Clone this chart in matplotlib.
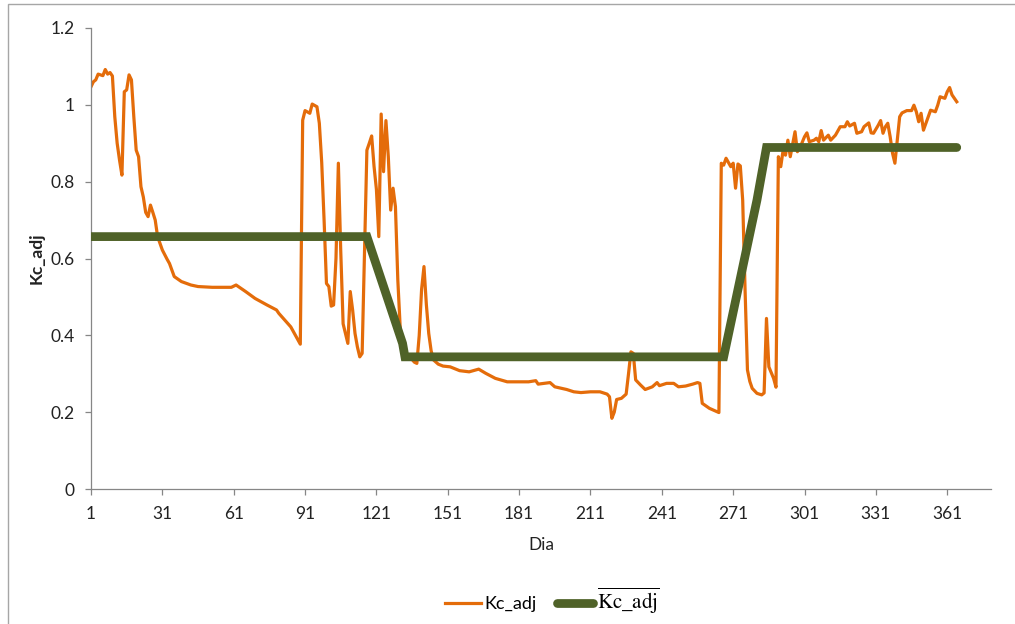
import matplotlib
matplotlib.use("Agg")
import matplotlib.pyplot as plt
from matplotlib.patches import Rectangle
from matplotlib.lines import Line2D

# ---- data ----
kc_days = [1, 2, 3, 4, 5, 6, 7, 8, 9, 10, 11, 12, 13, 14, 15, 16, 17, 18, 19, 20,
           21, 22, 23, 24, 25, 26, 27, 28, 29, 31, 33, 34, 36, 39, 43, 46, 52, 60, 62, 66,
           70, 75, 79, 80, 85, 89, 90, 91, 93, 94, 96, 97, 98, 99, 100, 101, 102, 103, 104, 105,
           106, 107, 108, 109, 110, 111, 112, 113, 114, 115, 116, 117, 118, 119, 120, 121, 122, 123, 124, 125,
           126, 127, 128, 129, 130, 131, 132, 133, 135, 137, 138, 139, 140, 141, 142, 143, 144, 145, 147, 149,
           152, 156, 160, 164, 167, 171, 176, 180, 185, 188, 189, 194, 196, 201, 204, 207, 211, 215, 218, 219,
           220, 221, 222, 224, 226, 227, 228, 229, 230, 232, 234, 237, 239, 240, 243, 246, 248, 251, 254, 256,
           257, 258, 261, 265, 266, 267, 268, 269, 270, 271, 272, 273, 274, 275, 276, 277, 278, 279, 281, 283,
           284, 285, 286, 288, 289, 290, 291, 292, 293, 294, 295, 297, 298, 299, 301, 302, 303, 305, 306, 307,
           308, 309, 311, 312, 314, 316, 318, 319, 320, 322, 323, 325, 326, 328, 329, 330, 332, 333, 334, 335,
           336, 337, 338, 339, 340, 341, 342, 344, 346, 347, 348, 349, 350, 351, 353, 354, 356, 357, 358, 360,
           361, 362, 363, 365]
kc_adj = [1.047, 1.060, 1.065, 1.080, 1.078, 1.076, 1.092, 1.080, 1.084, 1.075, 0.969, 0.900, 0.856, 0.817, 1.034, 1.039, 1.078, 1.065, 0.969, 0.882,
          0.865, 0.787, 0.760, 0.720, 0.709, 0.739, 0.720, 0.700, 0.657, 0.622, 0.598, 0.587, 0.553, 0.540, 0.531, 0.527, 0.525, 0.525, 0.531, 0.514,
          0.496, 0.479, 0.466, 0.457, 0.422, 0.377, 0.960, 0.985, 0.978, 1.002, 0.995, 0.952, 0.850, 0.700, 0.535, 0.527, 0.476, 0.479, 0.600, 0.848,
          0.620, 0.430, 0.405, 0.379, 0.514, 0.466, 0.405, 0.370, 0.344, 0.353, 0.620, 0.882, 0.900, 0.919, 0.840, 0.780, 0.657, 0.976, 0.826, 0.959,
          0.865, 0.726, 0.783, 0.735, 0.544, 0.420, 0.370, 0.345, 0.344, 0.330, 0.327, 0.400, 0.520, 0.579, 0.480, 0.405, 0.360, 0.336, 0.325, 0.320,
          0.318, 0.308, 0.305, 0.312, 0.301, 0.288, 0.279, 0.279, 0.279, 0.282, 0.273, 0.277, 0.266, 0.259, 0.253, 0.251, 0.253, 0.253, 0.247, 0.240,
          0.184, 0.200, 0.233, 0.236, 0.247, 0.300, 0.357, 0.353, 0.284, 0.271, 0.259, 0.266, 0.277, 0.269, 0.275, 0.275, 0.266, 0.268, 0.273, 0.277,
          0.275, 0.223, 0.210, 0.199, 0.848, 0.843, 0.861, 0.850, 0.839, 0.848, 0.783, 0.846, 0.841, 0.752, 0.518, 0.310, 0.280, 0.262, 0.249, 0.245,
          0.250, 0.444, 0.318, 0.288, 0.265, 0.865, 0.839, 0.882, 0.869, 0.908, 0.865, 0.930, 0.878, 0.887, 0.917, 0.927, 0.904, 0.908, 0.913, 0.904,
          0.933, 0.908, 0.921, 0.908, 0.921, 0.943, 0.943, 0.956, 0.945, 0.952, 0.926, 0.930, 0.943, 0.953, 0.927, 0.926, 0.947, 0.959, 0.926, 0.943,
          0.952, 0.917, 0.874, 0.848, 0.908, 0.969, 0.979, 0.985, 0.985, 0.999, 0.982, 0.956, 0.978, 0.934, 0.969, 0.986, 0.982, 0.999, 1.021, 1.017,
          1.034, 1.045, 1.026, 1.008]

mean_days = [1, 117, 132, 133, 267, 281, 285, 365]
mean_kc = [0.657, 0.657, 0.379, 0.344, 0.344, 0.752, 0.889, 0.889]

x_ticks = [1, 31, 61, 91, 121, 151, 181, 211, 241, 271, 301, 331, 361]
y_ticks = [0, 0.2, 0.4, 0.6, 0.8, 1.0, 1.2]
y_tick_labels = ["0", "0.2", "0.4", "0.6", "0.8", "1", "1.2"]

orange = "#E46C0A"
green = "#4F6228"
axis_gray = "#868686"

plt.rcParams['font.family'] = ['Lato', 'DejaVu Sans']
plt.rcParams['mathtext.fontset'] = 'stix'

fig = plt.figure(figsize=(10.15, 6.24), dpi=100)
ax = fig.add_axes([91/1015, 1-489/624, (991-91)/1015, (489-28)/624])

ax.plot(kc_days, kc_adj, color=orange, lw=2.3, solid_joinstyle='round', zorder=2)
ax.plot(mean_days, mean_kc, color=green, lw=6.3, solid_capstyle='round',
        solid_joinstyle='miter', zorder=3)

ax.set_xlim(1, 379.4)
ax.set_ylim(0, 1.2)
ax.set_xticks(x_ticks)
ax.set_xticklabels([str(t) for t in x_ticks])
ax.set_yticks(y_ticks)
ax.set_yticklabels(y_tick_labels)

for s in ['top', 'right']:
    ax.spines[s].set_visible(False)
for s in ['left', 'bottom']:
    ax.spines[s].set_color(axis_gray)
    ax.spines[s].set_linewidth(0.9)
ax.tick_params(axis='both', colors=axis_gray, length=4, width=0.9, labelcolor='#222222', labelsize=12.5)
ax.tick_params(axis='x', pad=8)
ax.tick_params(axis='y', pad=8)

ax.set_xlabel("Dia", fontsize=12.5, color='#222222', labelpad=11)
ax.set_ylabel("Kc_adj", fontsize=12.5, color='#222222', labelpad=4, fontweight='bold')

handles = [Line2D([], [], color=orange, lw=2.3),
           Line2D([], [], color=green, lw=6.3, solid_capstyle='round')]
labels = ["Kc_adj", r"$\overline{\mathrm{Kc\_adj}}$"]
leg = fig.legend(handles, labels, loc='center', bbox_to_anchor=(552/1015, 1-601/624), ncol=2,
                 frameon=False, fontsize=13, handlelength=2.0, handletextpad=0.2, columnspacing=1.1)
leg.get_texts()[1].set_fontsize(15)

# outer chart border
fig.patches.append(Rectangle((8/1015, -0.05), 1.2, 1-4/624+0.05, transform=fig.transFigure,
                             fill=False, edgecolor='#A6A6A6', lw=1.0))

fig.savefig("out.png", dpi=100)
